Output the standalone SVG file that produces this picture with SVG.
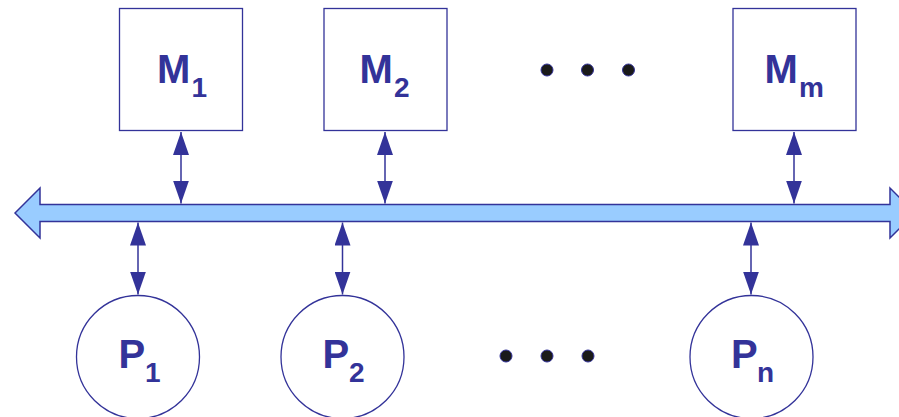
<svg xmlns="http://www.w3.org/2000/svg" width="899" height="417" viewBox="0 0 899 417">
<style>
.box{fill:#fff;stroke:#333399;stroke-width:1.3}
.lbl{font-family:"Liberation Sans",Arial,sans-serif;font-weight:bold;fill:#333399}
.main{font-size:40px}
.sub{font-size:28px}
.link{stroke:#333399;stroke-width:1.5;fill:none;marker-start:url(#ah);marker-end:url(#ah)}
.dot{fill:#1a1a1a;stroke:#333399;stroke-width:1}
</style>
<defs>
<marker id="ah" markerUnits="userSpaceOnUse" markerWidth="23" markerHeight="16" refX="23" refY="8" orient="auto-start-reverse" viewBox="0 0 23 16">
<path d="M0,0 L23,8 L0,16 z" fill="#333399"/>
</marker>
</defs>
<g id="bus">
<polygon points="15,213 40,188 40,204.5 890,204.5 890,188 915,213 890,238 890,221.5 40,221.5 40,238" fill="#99ccff" stroke="#333399" stroke-width="1.5"/>
</g>
<g id="M1"><rect class="box" x="119.5" y="8.5" width="123" height="122"/><text class="lbl"><tspan class="main" x="157" y="83">M</tspan><tspan class="sub" x="191.5" y="97">1</tspan></text></g>
<g id="M2"><rect class="box" x="324" y="8.5" width="123" height="122"/><text class="lbl"><tspan class="main" x="359.5" y="83">M</tspan><tspan class="sub" x="394" y="97">2</tspan></text></g>
<g id="Mm"><rect class="box" x="733" y="8.5" width="123" height="122"/><text class="lbl"><tspan class="main" x="764.5" y="83">M</tspan><tspan class="sub" x="799" y="97">m</tspan></text></g>
<g id="P1"><circle class="box" cx="138" cy="357" r="61.5"/><text class="lbl"><tspan class="main" x="118.5" y="368">P</tspan><tspan class="sub" x="145" y="382">1</tspan></text></g>
<g id="P2"><circle class="box" cx="342.5" cy="357" r="61.5"/><text class="lbl"><tspan class="main" x="322.5" y="368">P</tspan><tspan class="sub" x="349" y="382">2</tspan></text></g>
<g id="Pn"><circle class="box" cx="751.5" cy="357" r="61.5"/><text class="lbl"><tspan class="main" x="731" y="368">P</tspan><tspan class="sub" x="757" y="382">n</tspan></text></g>
<g id="dots-top"><circle class="dot" cx="547" cy="70" r="6"/><circle class="dot" cx="587.5" cy="70" r="6"/><circle class="dot" cx="628.5" cy="70" r="6"/></g>
<g id="dots-bottom"><circle class="dot" cx="506" cy="356" r="6"/><circle class="dot" cx="547" cy="356" r="6"/><circle class="dot" cx="588" cy="356" r="6"/></g>
<g id="connectors">
<line class="link" x1="181" y1="132" x2="181" y2="203.5"/>
<line class="link" x1="385" y1="132" x2="385" y2="203.5"/>
<line class="link" x1="794" y1="132" x2="794" y2="203.5"/>
<line class="link" x1="138" y1="222.5" x2="138" y2="294.5"/>
<line class="link" x1="342.5" y1="222.5" x2="342.5" y2="294.5"/>
<line class="link" x1="751" y1="222.5" x2="751" y2="294.5"/>
</g>
</svg>
